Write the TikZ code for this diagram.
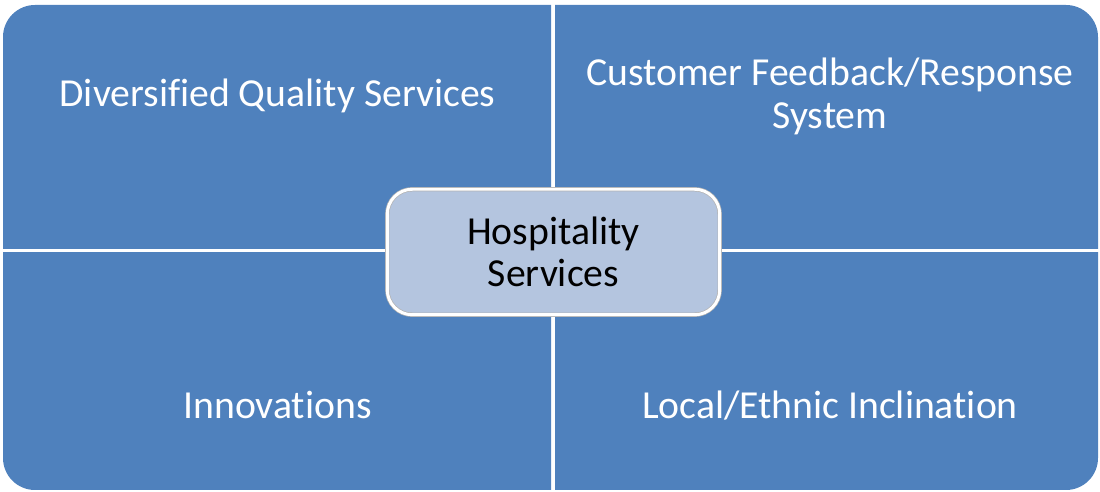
\documentclass[tikz,border=0pt]{standalone}
\usepackage{fontspec}
\setmainfont[Ligatures=NoCommon]{Carlito}
\definecolor{quadblue}{RGB}{79,129,189}
\definecolor{hubblue}{RGB}{180,197,223}

\begin{document}
\begin{tikzpicture}[x=0.02cm, y=-0.02cm,
    quad/.style={fill=quadblue, rounded corners=0.64cm}]
\useasboundingbox (0,0) rectangle (1100,492);

% the four quadrants, each keeps only its own outer corner round
\begin{scope}
    \clip (0,0) rectangle (551,249);
    \fill[quad] (3,5) rectangle (1098,490);
\end{scope}
\begin{scope}
    \clip (555,0) rectangle (1100,249);
    \fill[quad] (3,5) rectangle (1098,490);
\end{scope}
\begin{scope}
    \clip (0,253) rectangle (551,492);
    \fill[quad] (3,5) rectangle (1098,490);
\end{scope}
\begin{scope}
    \clip (555,253) rectangle (1100,492);
    \fill[quad] (3,5) rectangle (1098,490);
\end{scope}

\begin{scope}[every node/.style={text=white, align=center, anchor=base, inner sep=0pt,
                                 font=\fontsize{22.6pt}{24.5pt}\selectfont}]
    \node (quality) at (277.5,106.7) {Diversified Quality Services};
    \node (feedback) at (830,128.5) {Customer Feedback/Response\\System};
    \node (innovations) at (277.5,418.3) {Innovations};
    \node (local) at (830,418.3) {Local/Ethnic Inclination};
\end{scope}

\node (hub) at (553.5,252) [shape=rectangle, rounded corners=0.5cm, fill=hubblue,
    draw=gray!60, line width=0.4pt, double=white, double distance=1.7pt,
    minimum width=6.65cm, minimum height=2.51cm, align=center,
    font=\fontsize{22.6pt}{24pt}\selectfont] {Hospitality\\Services};
\end{tikzpicture}
\end{document}
